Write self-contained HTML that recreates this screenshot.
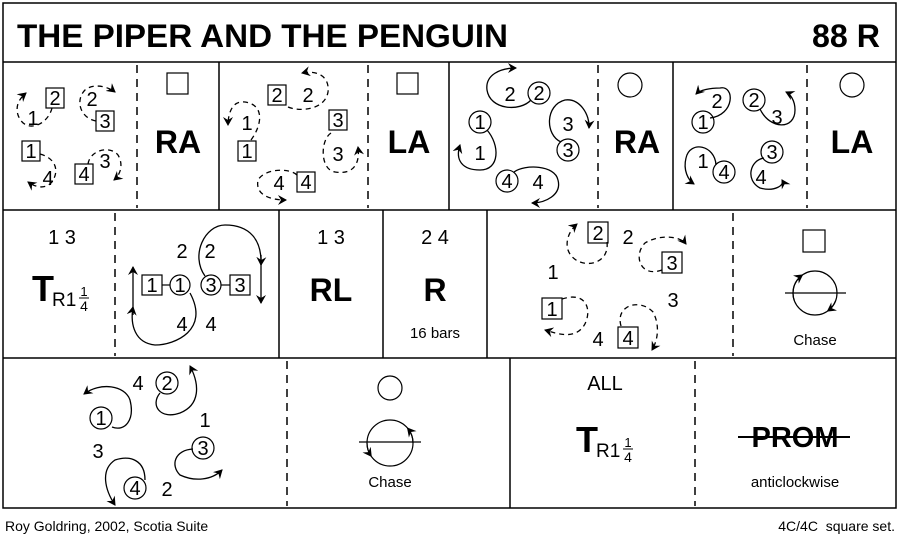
<!DOCTYPE html>
<html><head><meta charset="utf-8"><style>
html,body{margin:0;padding:0;background:#fff}
svg{display:block}
text{font-family:"Liberation Sans",sans-serif;fill:#000}
</style></head><body>
<svg width="900" height="542" viewBox="0 0 900 542" xmlns="http://www.w3.org/2000/svg">
<defs>
<marker id="a" markerWidth="10" markerHeight="10" refX="8" refY="5" orient="auto" markerUnits="userSpaceOnUse">
<path d="M0,0 L9,5 L0,10 L3,5 Z" fill="#000"/>
</marker>
</defs>
<g fill="none" stroke="#000" stroke-width="1.5">
<rect x="3" y="3" width="893" height="505"/>
<line x1="3" y1="62" x2="896" y2="62"/>
<line x1="3" y1="210" x2="896" y2="210"/>
<line x1="3" y1="358" x2="896" y2="358"/>
<line x1="219" y1="62" x2="219" y2="210"/>
<line x1="449" y1="62" x2="449" y2="210"/>
<line x1="673" y1="62" x2="673" y2="210"/>
<line x1="279" y1="210" x2="279" y2="358"/>
<line x1="383" y1="210" x2="383" y2="358"/>
<line x1="487" y1="210" x2="487" y2="358"/>
<line x1="510" y1="358" x2="510" y2="508"/>
</g>
<g fill="none" stroke="#000" stroke-width="1.5" stroke-dasharray="8,6">
<line x1="137" y1="65" x2="137" y2="208"/>
<line x1="368" y1="65" x2="368" y2="208"/>
<line x1="598" y1="65" x2="598" y2="208"/>
<line x1="807" y1="65" x2="807" y2="208"/>
<line x1="115" y1="213" x2="115" y2="356"/>
<line x1="733" y1="213" x2="733" y2="356"/>
<line x1="287" y1="361" x2="287" y2="506"/>
<line x1="695" y1="361" x2="695" y2="506"/>
</g>

<text x="17" y="47" font-size="32" font-weight="bold" textLength="491" lengthAdjust="spacingAndGlyphs">THE PIPER AND THE PENGUIN</text>
<text x="812" y="47" font-size="32" font-weight="bold" textLength="68" lengthAdjust="spacingAndGlyphs">88 R</text>

<g fill="none" stroke="#000" stroke-width="1.2">
<rect x="46" y="88" width="18" height="20"/><rect x="96" y="111" width="18" height="20"/>
<rect x="22" y="141" width="18" height="20"/><rect x="75" y="164" width="18" height="20"/>
<rect x="167" y="73" width="21" height="21"/><rect x="397" y="73" width="21" height="21"/>
<rect x="268" y="85" width="18" height="20"/><rect x="329" y="110" width="18" height="20"/>
<rect x="238" y="141" width="18" height="20"/><rect x="297" y="172" width="18" height="20"/>
<circle cx="539" cy="93" r="11"/><circle cx="480" cy="122" r="11"/><circle cx="568" cy="150" r="11"/><circle cx="507" cy="181" r="11"/>
<circle cx="630" cy="85" r="12"/><circle cx="852" cy="85" r="12"/>
<circle cx="703" cy="122" r="11"/><circle cx="754" cy="100" r="11"/><circle cx="724" cy="172" r="11"/><circle cx="772" cy="152" r="11"/>
<rect x="142" y="275" width="20" height="20"/><circle cx="180" cy="285" r="10"/><circle cx="211" cy="285" r="10"/><rect x="230" y="275" width="20" height="20"/>
<line x1="162" y1="285" x2="170" y2="285"/><line x1="221" y1="285" x2="230" y2="285"/>
<rect x="588" y="222" width="20" height="21"/><rect x="662" y="252" width="20" height="21"/>
<rect x="542" y="298" width="20" height="21"/><rect x="618" y="327" width="20" height="21"/>
<rect x="803" y="230" width="22" height="22"/>
<circle cx="815" cy="293" r="22"/><line x1="785" y1="293" x2="846" y2="293"/>
<circle cx="167" cy="383" r="11"/><circle cx="101" cy="418" r="11"/><circle cx="203" cy="448" r="11"/><circle cx="135" cy="488" r="11"/>
<circle cx="390" cy="388" r="12"/>
<circle cx="390" cy="443" r="23"/><line x1="359" y1="442" x2="421" y2="442"/>
<path d="M794.3,300.5 A22,22 0 0 1 802.4,275" marker-end="url(#a)"/>
<path d="M835.7,300.5 A22,22 0 0 1 827.6,311" marker-end="url(#a)"/>
<path d="M413,443 A23,23 0 0 0 407.6,428.2" marker-end="url(#a)"/>
<path d="M367,443 A23,23 0 0 0 371.2,456.2" marker-end="url(#a)"/>
</g>

<g fill="none" stroke="#000" stroke-width="1.3" stroke-dasharray="5,4">
<path d="M52,108 C48,125 25,135 18,115 C15,105 20,98 26,93" marker-end="url(#a)"/>
<path d="M96,121 C80,118 75,100 85,90 C95,82 110,88 115,92" marker-end="url(#a)"/>
<path d="M40,154 C55,158 60,170 52,182 C45,190 35,187 28,182" marker-end="url(#a)"/>
<path d="M88,164 C90,150 110,145 118,155 C124,165 120,175 114,180" marker-end="url(#a)"/>
<path d="M288,107 C300,112 325,110 328,92 C330,75 315,70 302,73" marker-end="url(#a)"/>
<path d="M251,140 C262,125 265,105 245,102 C230,100 228,118 228,125" marker-end="url(#a)"/>
<path d="M331,133 C320,140 320,170 335,172 C355,175 360,162 358,147" marker-end="url(#a)"/>
<path d="M297,175 C290,168 265,168 258,180 C255,195 270,200 286,200" marker-end="url(#a)"/>
<path d="M607,242 C610,268 575,270 568,250 C565,240 570,230 577,224" marker-end="url(#a)"/>
<path d="M662,270 C640,278 633,255 645,243 C660,234 680,236 686,244" marker-end="url(#a)"/>
<path d="M562,299 C590,290 592,315 583,327 C573,340 555,333 545,330" marker-end="url(#a)"/>
<path d="M621,326 C615,305 640,298 653,312 C660,325 658,340 652,350" marker-end="url(#a)"/>
</g>

<g fill="none" stroke="#000" stroke-width="1.3">
<path d="M531,100 C520,112 490,110 487,90 C485,75 500,68 516,68" marker-end="url(#a)"/>
<path d="M487,130 C500,145 500,170 480,170 C462,170 455,160 460,145" marker-end="url(#a)"/>
<path d="M561,142 C545,135 545,105 565,100 C580,98 590,115 589,128" marker-end="url(#a)"/>
<path d="M514,172 C525,164 555,165 558,180 C562,195 545,203 532,203" marker-end="url(#a)"/>
<path d="M710,118 C735,115 735,85 720,88 C710,88 700,90 696,94" marker-end="url(#a)"/>
<path d="M760,109 C770,130 795,130 795,110 C795,100 790,94 786,92" marker-end="url(#a)"/>
<path d="M716,165 C715,145 690,140 686,158 C683,170 688,180 694,184" marker-end="url(#a)"/>
<path d="M764,158 C750,160 745,180 760,188 C775,192 785,185 782,180" marker-end="url(#a)"/>
<line x1="133" y1="315" x2="133" y2="267" marker-end="url(#a)"/>
<path d="M190,293 C210,330 175,345 155,345 C135,343 130,325 133,307" marker-end="url(#a)"/>
<path d="M205,276 C190,255 205,225 225,225 C250,225 262,240 261,265" marker-end="url(#a)"/>
<line x1="261" y1="255" x2="261" y2="303" marker-end="url(#a)"/>
<path d="M112,427 C125,432 135,420 130,400 C125,385 100,382 84,394" marker-end="url(#a)"/>
<path d="M160,393 C150,405 160,420 180,413 C200,405 200,385 190,366" marker-end="url(#a)"/>
<path d="M193,449 C175,450 170,465 180,475 C195,482 212,480 222,470" marker-end="url(#a)"/>
<path d="M145,480 C145,460 130,455 115,460 C100,470 105,490 115,505" marker-end="url(#a)"/>
</g>

<g font-size="20" text-anchor="middle">
<text x="33" y="125">1</text><text x="55" y="105">2</text><text x="92" y="106">2</text><text x="105" y="128">3</text>
<text x="31" y="158">1</text><text x="48" y="185">4</text><text x="84" y="181">4</text><text x="105" y="168">3</text>
<text x="277" y="102">2</text><text x="308" y="102">2</text><text x="247" y="130">1</text><text x="338" y="127">3</text>
<text x="247" y="158">1</text><text x="338" y="161">3</text><text x="279" y="190">4</text><text x="306" y="189">4</text>
<text x="510" y="101">2</text><text x="539" y="100">2</text><text x="480" y="129">1</text><text x="480" y="160">1</text>
<text x="568" y="131">3</text><text x="568" y="157">3</text><text x="507" y="188">4</text><text x="538" y="189">4</text>
<text x="717" y="108">2</text><text x="703" y="129">1</text><text x="754" y="107">2</text><text x="777" y="124">3</text>
<text x="703" y="168">1</text><text x="724" y="179">4</text><text x="772" y="159">3</text><text x="761" y="184">4</text>
<text x="62" y="244">1 3</text>
<text x="152" y="292">1</text><text x="180" y="292">1</text><text x="211" y="292">3</text><text x="240" y="292">3</text>
<text x="182" y="258">2</text><text x="210" y="258">2</text><text x="182" y="331">4</text><text x="211" y="331">4</text>
<text x="331" y="244">1 3</text><text x="435" y="244">2 4</text>
<text x="598" y="240">2</text><text x="628" y="244">2</text><text x="672" y="270">3</text><text x="553" y="279">1</text>
<text x="552" y="316">1</text><text x="673" y="307">3</text><text x="598" y="346">4</text><text x="628" y="345">4</text>
<text x="138" y="390">4</text><text x="167" y="390">2</text><text x="101" y="425">1</text><text x="205" y="427">1</text>
<text x="98" y="458">3</text><text x="203" y="455">3</text><text x="135" y="495">4</text><text x="167" y="496">2</text>
<text x="605" y="390">ALL</text>
</g>
<g font-size="32" font-weight="bold" text-anchor="middle">
<text x="178" y="153">RA</text><text x="409" y="153">LA</text><text x="637" y="153">RA</text><text x="852" y="153">LA</text>
<text x="331" y="301">RL</text><text x="435" y="301">R</text>
<text x="795" y="447" font-size="29">PROM</text>
</g>
<line x1="738" y1="437" x2="850" y2="437" stroke="#000" stroke-width="2"/>
<g font-size="15" text-anchor="middle">
<text x="435" y="338">16 bars</text><text x="815" y="345">Chase</text><text x="390" y="487">Chase</text><text x="795" y="487">anticlockwise</text>
</g>
<text x="32" y="301" font-size="36" font-weight="bold">T</text>
<text x="52" y="306" font-size="19">R1</text>
<text x="84" y="296" font-size="13" text-anchor="middle">1</text>
<line x1="79" y1="298" x2="89" y2="298" stroke="#000" stroke-width="1"/>
<text x="84" y="311" font-size="14" text-anchor="middle">4</text>
<text x="576" y="452" font-size="36" font-weight="bold">T</text>
<text x="596" y="457" font-size="19">R1</text>
<text x="628" y="447" font-size="13" text-anchor="middle">1</text>
<line x1="623" y1="449" x2="633" y2="449" stroke="#000" stroke-width="1"/>
<text x="628" y="462" font-size="14" text-anchor="middle">4</text>

<text x="5" y="531" font-size="14">Roy Goldring, 2002, Scotia Suite</text>
<text x="895" y="531" font-size="14" text-anchor="end" xml:space="preserve">4C/4C  square set.</text>
</svg>
</body></html>
